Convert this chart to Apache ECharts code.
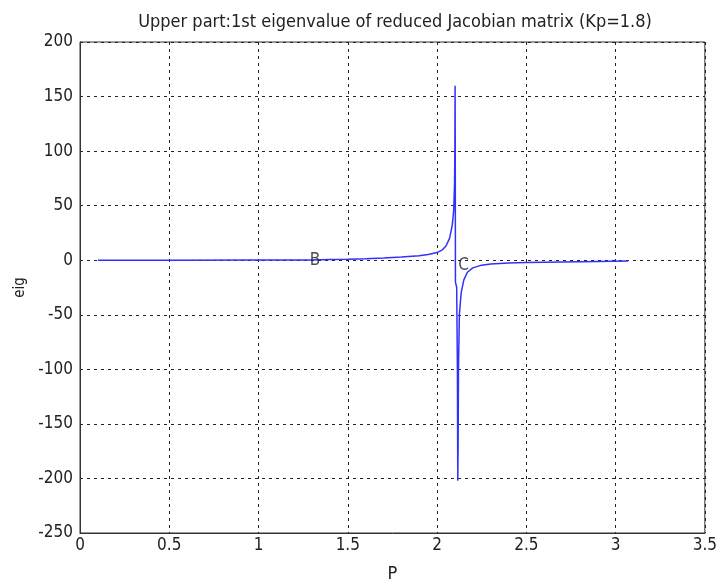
<!DOCTYPE html>
<html lang="en">
  <head>
    <meta charset="UTF-8" />
    <title>eig vs P</title>
    <style>
      html,
      body {
        margin: 0;
        padding: 0;
        background: #fff;
      }
      #chart {
        width: 720px;
        height: 588px;
      }
    </style>
  </head>
  <body>
    <div id="chart"></div>
    <script src="https://cdn.jsdelivr.net/npm/echarts@6/dist/echarts.min.js"></script>
    <script>
      // P values and 1st eigenvalue
      const pValues = [
        0.1, 0.5, 1.0, 1.3, 1.4, 1.5, 1.6, 1.7, 1.8, 1.9, 1.95, 2.0, 2.03, 2.05,
        2.07, 2.085, 2.093, 2.098, 2.1, 2.101, 2.102, 2.103, 2.11, 2.114, 2.116,
        2.118, 2.12, 2.125, 2.135, 2.15, 2.17, 2.2, 2.25, 2.3, 2.4, 2.5, 2.7, 2.9,
        3.07,
      ];
      const eigValues = [
        0, 0, 0.1, 0.3, 0.6, 0.9, 1.4, 2.1, 2.9, 4.2, 5.3, 7, 9.5, 13, 20, 32,
        45, 70, 105, 160, 100, -20, -25, -100, -202, -170, -100, -50, -30, -18,
        -11, -7, -4.5, -3.5, -2.6, -2.2, -1.6, -1.2, -0.8,
      ];
      const xTicks = [0, 0.5, 1, 1.5, 2, 2.5, 3, 3.5];
      const yTicks = [-250, -200, -150, -100, -50, 0, 50, 100, 150, 200];
      const pointLabels = [
        { name: "B", p: 1.316, v: 0 },
        { name: "C", p: 2.148, v: -5 },
      ];

      const font = "DejaVu Sans Condensed, Arial, sans-serif";
      const chart = echarts.init(document.getElementById("chart"));
      const gridLine = {
        show: true,
        lineStyle: { color: "#222", type: [3, 4], width: 1 },
      };

      chart.setOption({
        animation: false,
        title: {
          text: "Upper part:1st eigenvalue of reduced Jacobian matrix (Kp=1.8)",
          left: 390,
          textAlign: "center",
          top: 8,
          textStyle: {
            fontFamily: font,
            fontSize: 18,
            fontWeight: "normal",
            color: "#222",
          },
        },
        grid: {
          left: 80,
          right: 15,
          top: 42,
          bottom: 52,
          show: true,
          borderColor: "#333",
          borderWidth: 1,
        },
        xAxis: {
          type: "value",
          min: xTicks[0],
          max: xTicks[xTicks.length - 1],
          interval: 0.5,
          name: "P",
          nameLocation: "middle",
          nameGap: 32,
          nameTextStyle: { fontFamily: font, fontSize: 18, color: "#222" },
          axisLine: { show: true, onZero: false, lineStyle: { color: "#333" } },
          axisTick: { show: false },
          axisLabel: { fontFamily: font, fontSize: 17, color: "#222", margin: 4 },
          splitLine: gridLine,
        },
        yAxis: {
          type: "value",
          min: yTicks[0],
          max: yTicks[yTicks.length - 1],
          interval: 50,
          name: "eig",
          nameLocation: "middle",
          nameGap: 44,
          nameRotate: 90,
          nameTextStyle: { fontFamily: font, fontSize: 15, color: "#222" },
          axisLine: { show: true, lineStyle: { color: "#333" } },
          axisTick: { show: false },
          axisLabel: { fontFamily: font, fontSize: 17, color: "#222", margin: 7 },
          splitLine: gridLine,
        },
        series: [
          {
            type: "line",
            data: pValues.map((p, i) => [p, eigValues[i]]),
            showSymbol: false,
            lineStyle: { color: "#3030ff", width: 1.5 },
            z: 3,
          },
          {
            type: "scatter",
            data: pointLabels.map((d) => ({ name: d.name, value: [d.p, d.v] })),
            symbolSize: 0,
            label: {
              show: true,
              position: "inside",
              formatter: (d) => d.name,
              fontFamily: font,
              fontSize: 17,
              color: "#222",
            },
            z: 4,
          },
        ],
      });
    </script>
  </body>
</html>
